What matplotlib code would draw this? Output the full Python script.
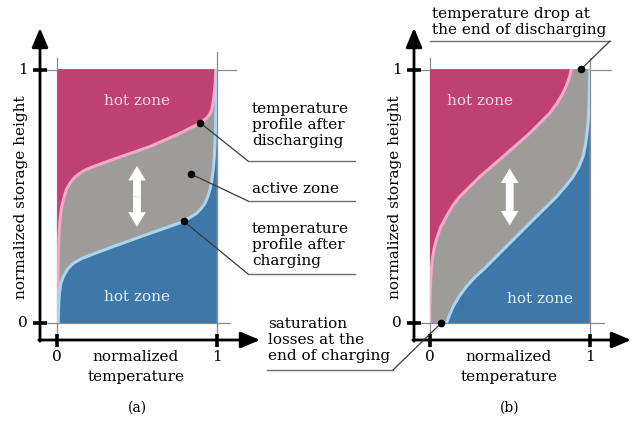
import matplotlib
matplotlib.use("Agg")
import matplotlib.pyplot as plt
from matplotlib.patches import FancyArrowPatch

plt.rcParams["font.family"] = ["DejaVu Serif"]
plt.rcParams["font.size"] = 10

# ---- temperature profiles (x: normalized temperature, y: normalized height) ----
# panel (a)
dis_a_x = [0.0, 0.006, 0.010, 0.017, 0.026, 0.038, 0.056, 0.079, 0.108, 0.142, 0.180,
           0.226, 0.372, 0.581, 0.749, 0.874, 0.910, 0.937, 0.955, 0.968, 0.978,
           0.985, 0.991, 0.994]
dis_a_y = [0.0, 0.249, 0.340, 0.407, 0.455, 0.486, 0.525, 0.551, 0.574, 0.591, 0.605,
           0.617, 0.650, 0.696, 0.742, 0.781, 0.795, 0.808, 0.822, 0.840, 0.870,
           0.906, 0.950, 1.0]
chg_a_x = [0.006, 0.008, 0.013, 0.022, 0.038, 0.065, 0.100, 0.150, 0.205, 0.372, 0.581,
           0.790, 0.874, 0.900, 0.926, 0.943, 0.957, 0.969, 0.978, 0.985, 0.989,
           0.993, 0.995, 0.998, 1.0]
chg_a_y = [0.0, 0.060, 0.118, 0.157, 0.184, 0.214, 0.236, 0.254, 0.268, 0.307, 0.354,
           0.400, 0.433, 0.450, 0.472, 0.497, 0.525, 0.562, 0.604, 0.655, 0.709,
           0.775, 0.840, 0.920, 1.0]
# panel (b)
dis_b_x = [0.0, 0.001, 0.004, 0.009, 0.016, 0.027, 0.041, 0.068, 0.104, 0.143, 0.188,
           0.313, 0.458, 0.625, 0.750, 0.795, 0.833, 0.857, 0.875, 0.885]
dis_b_y = [0.0, 0.070, 0.144, 0.200, 0.249, 0.292, 0.328, 0.378, 0.420, 0.462, 0.499,
           0.577, 0.656, 0.748, 0.827, 0.866, 0.906, 0.940, 0.972, 1.0]
chg_b_x = [0.104, 0.122, 0.146, 0.185, 0.229, 0.280, 0.333, 0.479, 0.646, 0.792, 0.850,
           0.896, 0.930, 0.958, 0.973, 0.983, 0.990, 0.994, 0.998, 1.0]
chg_b_y = [0.0, 0.030, 0.065, 0.107, 0.144, 0.180, 0.210, 0.302, 0.407, 0.498, 0.540,
           0.577, 0.613, 0.656, 0.700, 0.748, 0.790, 0.840, 0.920, 1.0]

# marked points on the profiles
dots_a = {"discharging": (0.895, 0.790), "active": (0.837, 0.588), "charging": (0.795, 0.401)}
dots_b = {"drop": (0.946, 1.0), "saturation": (0.07, 0.0)}

tick_labels = ["0", "1"]
xlabel = "normalized\ntemperature"
ylabel = "normalized storage height"

HOT = "#bf4172"
ACTIVE = "#9d9c98"
COLD = "#3e78a9"
PINK = "#f3a9c8"
LIGHTBLUE = "#a9d5f2"
GUIDE = "#8a8a8a"
LEADER = "#3a3a3a"
FS = 11
LS = 1.22

W, H = 633, 428
fig = plt.figure(figsize=(W / 100, H / 100), dpi=100)

# full-figure drawing layer in pixel units (y downwards)
canvas = fig.add_axes([0, 0, 1, 1])
canvas.set_xlim(0, W)
canvas.set_ylim(H, 0)
canvas.axis("off")


def storage_axes(left, right, top, bottom):
    ax = fig.add_axes([left / W, (H - bottom) / H, (right - left) / W, (bottom - top) / H])
    ax.set_xlim(0, 1)
    ax.set_ylim(0, 1)
    ax.axis("off")
    ax.patch.set_alpha(0)
    return ax


def draw_profiles(ax, dx, dy, cx, cy):
    ax.fill([0, 1, 1, 0], [0, 0, 1, 1], color=ACTIVE, lw=0)
    ax.fill(dx + [0], dy + [1], color=HOT, lw=0)
    ax.fill(cx + [1], cy + [0], color=COLD, lw=0)
    ax.plot(dx, dy, color=PINK, lw=2.2, solid_joinstyle="round")
    ax.plot(cx, cy, color=LIGHTBLUE, lw=2.2, solid_joinstyle="round")


def double_arrow(ax, x, y0, y1):
    ym = (y0 + y1) / 2
    for y in (y0, y1):
        ax.add_patch(FancyArrowPatch((x, ym), (x, y),
                                     arrowstyle="simple,head_length=0.75,head_width=0.9,tail_width=0.4",
                                     mutation_scale=14, color="white", lw=0,
                                     shrinkA=0, shrinkB=0))


def frame(ax_x0, ax_x1, y_top, y_bot, yaxis_x, xaxis_y, xtip, hline_ends, vline_tops):
    # coordinate axes with arrow heads
    canvas.annotate("", xy=(yaxis_x, 28), xytext=(yaxis_x, xaxis_y + 1.2),
                    arrowprops=dict(arrowstyle="-|>,head_length=0.9,head_width=0.38",
                                    color="black", lw=2, shrinkA=0, shrinkB=0,
                                    mutation_scale=13))
    canvas.annotate("", xy=(xtip, xaxis_y), xytext=(yaxis_x - 1.2, xaxis_y),
                    arrowprops=dict(arrowstyle="-|>,head_length=0.9,head_width=0.38",
                                    color="black", lw=2, shrinkA=0, shrinkB=0,
                                    mutation_scale=13))
    # guide lines
    canvas.plot([yaxis_x, hline_ends[0]], [y_top, y_top], color=GUIDE, lw=0.9)
    canvas.plot([yaxis_x, hline_ends[1]], [y_bot, y_bot], color=GUIDE, lw=0.9)
    canvas.plot([ax_x0, ax_x0], [vline_tops[0], xaxis_y], color=GUIDE, lw=0.9)
    canvas.plot([ax_x1, ax_x1], [vline_tops[1], xaxis_y], color=GUIDE, lw=0.9)
    # ticks
    for y in (y_top, y_bot):
        canvas.plot([yaxis_x - 7, yaxis_x + 7], [y, y], color="black", lw=2.6,
                    solid_capstyle="butt")
    for x in (ax_x0, ax_x1):
        canvas.plot([x, x], [xaxis_y - 6, xaxis_y + 7], color="black", lw=2.6,
                    solid_capstyle="butt")
    # tick labels
    canvas.text(yaxis_x - 17, y_bot, tick_labels[0], ha="center", va="center", fontsize=FS)
    canvas.text(yaxis_x - 17, y_top, tick_labels[1], ha="center", va="center", fontsize=FS)
    canvas.text(ax_x0, 357, tick_labels[0], ha="center", va="center", fontsize=FS)
    canvas.text(ax_x1, 357, tick_labels[1], ha="center", va="center", fontsize=FS)
    canvas.text((ax_x0 + ax_x1) / 2 - 1, 367, xlabel, ha="center", va="center",
                fontsize=FS, linespacing=1.5)
    canvas.text(yaxis_x - 19, 197, ylabel, ha="center", va="center", rotation=90,
                fontsize=FS)


# ---------------- panel (a) ----------------
ax_a = storage_axes(57.3, 216.7, 69.3, 323.3)
draw_profiles(ax_a, dis_a_x, dis_a_y, chg_a_x, chg_a_y)
double_arrow(ax_a, 0.5, 0.38, 0.62)
ax_a.text(0.5, 0.877, "hot zone", ha="center", va="center", color="#f8d8e6", fontsize=FS)
ax_a.text(0.5, 0.105, "hot zone", ha="center", va="center", color="#e3f0fa", fontsize=FS)
frame(57.3, 216.7, 70, 323, 40, 340, 260, (236, 230), (58, 52))
canvas.text(137, 408, "(a)", ha="center", va="center", fontsize=10)

# callouts on the right of panel (a)
callouts_a = [
    ("discharging", "temperature\nprofile after\ndischarging", 125, 161),
    ("active", "active zone", 189, 201),
    ("charging", "temperature\nprofile after\ncharging", 245, 274),
]
for key, label, ty, uy in callouts_a:
    canvas.text(252, ty, label, ha="left", va="center", fontsize=FS, linespacing=LS)
    canvas.plot([248, 355], [uy, uy], color="#6e6e6e", lw=1)
    ax_a.plot(*dots_a[key], "o", color="black", ms=4.5, clip_on=False, zorder=5)
    ax_a.annotate("", xy=dots_a[key], xycoords="data",
                  xytext=(248, H - uy), textcoords="figure pixels",
                  arrowprops=dict(arrowstyle="-", color=LEADER, lw=0.9,
                                  shrinkA=0, shrinkB=0))

# ---------------- panel (b) ----------------
ax_b = storage_axes(429.7, 589.7, 69.3, 323.3)
draw_profiles(ax_b, dis_b_x, dis_b_y, chg_b_x, chg_b_y)
double_arrow(ax_b, 0.5, 0.385, 0.61)
ax_b.text(0.315, 0.877, "hot zone", ha="center", va="center", color="#f8d8e6", fontsize=FS)
ax_b.text(0.69, 0.095, "hot zone", ha="center", va="center", color="#e3f0fa", fontsize=FS)
frame(429.7, 589.7, 70, 323, 414, 340, 631, (611, 604), (58, 58))
canvas.text(510, 408, "(b)", ha="center", va="center", fontsize=10)

# callout: temperature drop at the top
canvas.text(432, 22, "temperature drop at\nthe end of discharging", ha="left", va="center",
            fontsize=FS, linespacing=LS)
canvas.plot([430, 610], [41, 41], color="#6e6e6e", lw=1)
ax_b.plot(*dots_b["drop"], "o", color="black", ms=4.5, clip_on=False, zorder=5)
ax_b.annotate("", xy=dots_b["drop"], xycoords="data",
              xytext=(610, H - 41), textcoords="figure pixels",
              arrowprops=dict(arrowstyle="-", color=LEADER, lw=0.9, shrinkA=0, shrinkB=0))

# callout: saturation losses at the bottom
canvas.text(268, 340, "saturation\nlosses at the\nend of charging", ha="left", va="center",
            fontsize=FS, linespacing=LS)
canvas.plot([267, 393], [370, 370], color="#6e6e6e", lw=1)
ax_b.plot(*dots_b["saturation"], "o", color="black", ms=4.5, clip_on=False, zorder=5)
ax_b.annotate("", xy=dots_b["saturation"], xycoords="data",
              xytext=(393, H - 370), textcoords="figure pixels",
              arrowprops=dict(arrowstyle="-", color=LEADER, lw=0.9, shrinkA=0, shrinkB=0))

fig.savefig("out.png", dpi=100)
